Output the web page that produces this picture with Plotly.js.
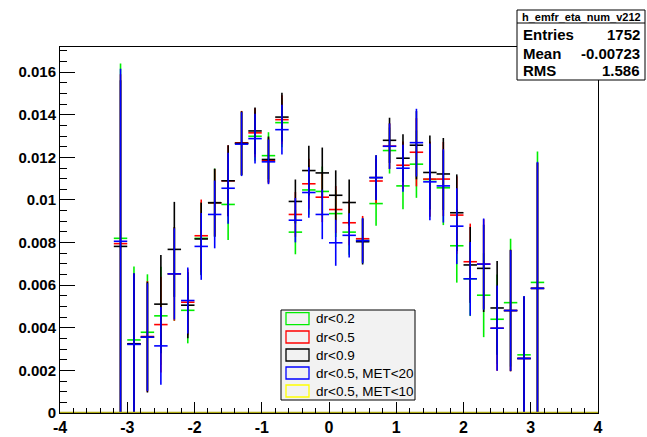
<!DOCTYPE html>
<html>
<head>
<meta charset="utf-8">
<script src="https://cdn.plot.ly/plotly-3.0.1.min.js"></script>
<style>html,body{margin:0;padding:0;background:#fff;}#chart{width:647px;height:437px;}</style>
</head>
<body>
<div id="chart"></div>
<script>
// bin centres (eta), bin width 0.2
const binCenters = [-3.1,-2.9,-2.7,-2.5,-2.3,-2.1,-1.9,-1.7,-1.5,-1.3,-1.1,-0.9,-0.7,-0.5,-0.3,-0.1,
                    0.1,0.3,0.5,0.7,0.9,1.1,1.3,1.5,1.7,1.9,2.1,2.3,2.5,2.7,2.9,3.1];
const halfWidth = 0.1;
// values in units of 1e-3
const dr02 = [8.20,3.43,3.79,4.56,6.53,4.82,8.20,9.87,9.79,12.66,12.99,12.08,13.63,8.49,10.47,10.40,
              9.36,8.49,8.10,9.83,12.32,10.66,11.68,10.96,10.57,7.85,6.30,5.53,4.40,5.18,2.73,6.13];
const dr05 = [7.95,3.25,3.59,4.15,6.53,5.20,8.32,9.87,10.90,12.68,13.15,11.85,13.77,9.32,10.76,10.13,
              9.55,8.93,8.18,10.89,12.53,11.63,12.24,10.98,10.98,9.29,7.10,6.99,3.98,4.81,2.56,5.85];
const dr09 = [7.82,3.25,3.56,5.11,7.68,5.06,8.17,9.87,10.90,12.66,13.24,11.90,13.89,9.93,11.38,11.27,
              10.22,9.88,8.04,11.05,12.80,11.96,12.57,11.29,11.22,9.40,6.95,6.79,4.93,4.81,2.56,5.85];
const met20 = [8.06,3.22,3.56,3.15,6.53,5.28,7.82,9.32,10.55,12.62,12.88,11.79,13.30,9.05,10.35,9.32,
               7.99,8.34,8.09,11.05,12.52,11.49,12.69,10.85,10.66,8.77,6.30,6.99,3.98,4.81,2.56,5.85];
const errDr02 = [8.2,3.45,2.72,2.3,2.2,1.55,1.7,1.6,1.67,1.5,1.15,1.1,1.15,1.04,1.17,1.17,
                 1.1,1.06,1.07,1.04,1.08,1.1,1.58,1.75,1.75,1.73,1.75,1.97,2.1,3.0,2.75,6.15];
const errDr05 = [7.95,3.3,2.6,2.25,2.2,1.55,1.7,1.57,1.67,1.5,1.15,1.08,1.15,1.05,1.17,1.17,
                 1.1,1.06,1.07,1.05,1.07,1.12,1.6,1.76,1.74,1.82,1.79,2.1,2.0,2.85,2.9,5.9];
const errDr09 = [7.8,3.3,2.6,2.31,2.23,1.55,1.7,1.6,1.67,1.5,1.1,1.08,1.14,1.03,1.17,1.19,
                 1.17,1.08,1.07,1.05,1.06,1.12,1.6,1.74,1.69,1.8,1.78,2.05,2.2,2.85,2.9,5.9];
const errMet20 = [8.1,3.34,2.53,1.82,2.14,1.55,1.57,1.59,1.67,1.5,1.17,1.05,1.17,1.04,1.19,1.16,
                  1.08,1.04,1.06,1.05,1.07,1.1,1.59,1.8,1.72,1.78,1.73,2.14,2.0,2.83,2.93,5.94];
// MET<10 histogram: all 40 bins empty
const met10Centers = [-3.9,-3.7,-3.5,-3.3,-3.1,-2.9,-2.7,-2.5,-2.3,-2.1,-1.9,-1.7,-1.5,-1.3,-1.1,-0.9,-0.7,-0.5,-0.3,-0.1,
                      0.1,0.3,0.5,0.7,0.9,1.1,1.3,1.5,1.7,1.9,2.1,2.3,2.5,2.7,2.9,3.1,3.3,3.5,3.7,3.9];
const met10 = [0,0,0,0,0,0,0,0,0,0,0,0,0,0,0,0,0,0,0,0,0,0,0,0,0,0,0,0,0,0,0,0,0,0,0,0,0,0,0,0];

const seriesNames = ["dr<0.2","dr<0.5","dr<0.9","dr<0.5, MET<20","dr<0.5, MET<10"];
const seriesColors = ["#00ee00","#ff0000","#000000","#0000ff","#ffff00"];

const xTickVals = [-4,-3,-2,-1,0,1,2,3,4];
const xTickText = ["-4","-3","-2","-1","0","1","2","3","4"];
const yTickVals = [0,2,4,6,8,10,12,14,16];
const yTickText = ["0","0.002","0.004","0.006","0.008","0.01","0.012","0.014","0.016"];

const statsTitle = "h_emfr_eta_num_v212";
const statsLabels = ["Entries","Mean","RMS"];
const statsValues = ["1752","-0.00723","1.586"];

function hist(xs, ys, errs, color, thick) {
  return {
    type: 'scatter', mode: 'markers', x: xs, y: ys, showlegend: false,
    marker: {size: 1, color: 'rgba(0,0,0,0)'},
    error_x: {type: 'constant', value: halfWidth, width: 0, thickness: thick, color: color},
    error_y: {type: 'data', array: errs, visible: true, width: 0, thickness: thick, color: color},
    cliponaxis: true, hoverinfo: 'skip'
  };
}
const traces = [
  hist(binCenters, dr02, errDr02, seriesColors[0], 1.6),
  hist(binCenters, dr05, errDr05, seriesColors[1], 1.6),
  hist(binCenters, dr09, errDr09, seriesColors[2], 1.6),
  hist(binCenters, met20, errMet20, seriesColors[3], 1.6),
  hist(met10Centers, met10, met10, '#ada812', 2.5)
];

// pixel -> paper helpers (plot area: x 60..598, y 47..413)
const L = 60, R = 598, T = 47, B = 413;
const px = x => (x - L) / (R - L);
const py = y => (B - y) / (B - T);
const FONT = 'Liberation Sans, Arial, Helvetica';

const shapes = [];
const annotations = [];
// stats box
shapes.push({type:'rect', xref:'paper', yref:'paper', x0:px(517), x1:px(645), y0:py(80), y1:py(10),
  line:{color:'#000', width:1}, fillcolor:'#ffffff', layer:'above'});
shapes.push({type:'line', xref:'paper', yref:'paper', x0:px(517), x1:px(645), y0:py(23), y1:py(23),
  line:{color:'#000', width:1}, layer:'above'});
annotations.push({xref:'paper', yref:'paper', x:px(581), y:py(16.5), text:'<b>'+statsTitle+'</b>', showarrow:false,
  xanchor:'center', yanchor:'middle', font:{family:FONT, size:11, color:'#000'}});
const statRows = [35, 53, 71];
statsLabels.forEach((lab, i) => {
  annotations.push({xref:'paper', yref:'paper', x:px(521), y:py(statRows[i]), text:'<b>'+lab+'</b>', showarrow:false,
    xanchor:'left', yanchor:'middle', font:{family:FONT, size:15, color:'#000'}});
  annotations.push({xref:'paper', yref:'paper', x:px(642), y:py(statRows[i]), text:'<b>'+statsValues[i]+'</b>', showarrow:false,
    xanchor:'right', yanchor:'middle', font:{family:FONT, size:15, color:'#000'}});
});
// legend box
shapes.push({type:'rect', xref:'paper', yref:'paper', x0:px(281), x1:px(415), y0:py(400), y1:py(310),
  line:{color:'#000', width:1}, fillcolor:'#f2f2f2', layer:'above'});
const legRows = [318.7, 337, 355, 373, 391];
seriesNames.forEach((nm, i) => {
  shapes.push({type:'rect', xref:'paper', yref:'paper', x0:px(286), x1:px(309), y0:py(legRows[i]+6), y1:py(legRows[i]-6),
    line:{color:seriesColors[i], width:1.3}, fillcolor:'rgba(0,0,0,0)', layer:'above'});
  annotations.push({xref:'paper', yref:'paper', x:px(314), y:py(legRows[i]), text:nm, showarrow:false,
    xanchor:'left', yanchor:'middle', font:{family:FONT, size:13.5, color:'#000'}});
});

const layout = {
  width: 647, height: 437,
  margin: {l: L, r: 647 - R, t: T, b: 437 - B, pad: 0},
  paper_bgcolor: '#ffffff', plot_bgcolor: '#ffffff',
  showlegend: false,
  xaxis: {
    range: [-4, 4], tickmode: 'array', tickvals: xTickVals, ticktext: xTickText.map(t => '<b>'+t+'</b>'),
    ticks: 'inside', ticklen: 11, tickwidth: 1, tickcolor: '#000',
    minor: {dtick: 0.2, tick0: 0, ticks: 'inside', ticklen: 5, tickwidth: 1, tickcolor: '#000', showgrid: false},
    showline: true, linecolor: '#000', linewidth: 1, mirror: true,
    showgrid: false, zeroline: false,
    tickfont: {family: FONT, size: 16, color: '#000'}
  },
  yaxis: {
    range: [0, 17.18], tickmode: 'array', tickvals: yTickVals, ticktext: yTickText.map(t => '<b>'+t+'</b>'),
    ticks: 'inside', ticklen: 15, tickwidth: 1, tickcolor: '#000',
    minor: {dtick: 0.5, tick0: 0, ticks: 'inside', ticklen: 7, tickwidth: 1, tickcolor: '#000', showgrid: false},
    showline: true, linecolor: '#000', linewidth: 1, mirror: true,
    showgrid: false, zeroline: false,
    tickfont: {family: FONT, size: 15, color: '#000'}
  },
  shapes: shapes,
  annotations: annotations
};

Plotly.newPlot('chart', traces, layout, {displayModeBar: false, staticPlot: true});
</script>
</body>
</html>
